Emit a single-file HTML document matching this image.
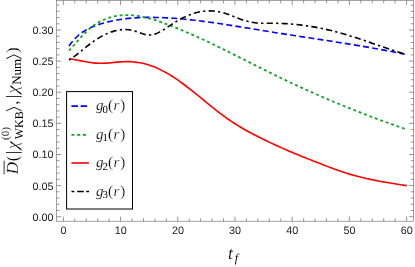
<!DOCTYPE html><html><head><meta charset="utf-8"><style>html,body{margin:0;padding:0;background:#fff;}svg{display:block;will-change:transform;}text{text-rendering:geometricPrecision;}text{font-family:"Liberation Sans",sans-serif;}.s{font-family:"Liberation Serif",serif;stroke:#fff;stroke-width:0.18px;}</style></head><body>
<svg width="415" height="267" viewBox="0 0 415 267">
<rect width="415" height="267" fill="#fff"/>
<g stroke="#666666" stroke-width="0.6" fill="none">
<rect x="56.60" y="0.50" width="357.05" height="220.70"/>
<path d="M63.35,221.20V216.60M63.35,0.50V5.10M74.79,221.20V218.30M74.79,0.50V3.40M86.23,221.20V218.30M86.23,0.50V3.40M97.68,221.20V218.30M97.68,0.50V3.40M109.12,221.20V218.30M109.12,0.50V3.40M120.56,221.20V216.60M120.56,0.50V5.10M132.00,221.20V218.30M132.00,0.50V3.40M143.44,221.20V218.30M143.44,0.50V3.40M154.89,221.20V218.30M154.89,0.50V3.40M166.33,221.20V218.30M166.33,0.50V3.40M177.77,221.20V216.60M177.77,0.50V5.10M189.21,221.20V218.30M189.21,0.50V3.40M200.65,221.20V218.30M200.65,0.50V3.40M212.10,221.20V218.30M212.10,0.50V3.40M223.54,221.20V218.30M223.54,0.50V3.40M234.98,221.20V216.60M234.98,0.50V5.10M246.42,221.20V218.30M246.42,0.50V3.40M257.86,221.20V218.30M257.86,0.50V3.40M269.31,221.20V218.30M269.31,0.50V3.40M280.75,221.20V218.30M280.75,0.50V3.40M292.19,221.20V216.60M292.19,0.50V5.10M303.63,221.20V218.30M303.63,0.50V3.40M315.07,221.20V218.30M315.07,0.50V3.40M326.52,221.20V218.30M326.52,0.50V3.40M337.96,221.20V218.30M337.96,0.50V3.40M349.40,221.20V216.60M349.40,0.50V5.10M360.84,221.20V218.30M360.84,0.50V3.40M372.28,221.20V218.30M372.28,0.50V3.40M383.73,221.20V218.30M383.73,0.50V3.40M395.17,221.20V218.30M395.17,0.50V3.40M406.61,221.20V216.60M406.61,0.50V5.10M56.60,216.70H61.20M413.65,216.70H409.05M56.60,210.48H59.50M413.65,210.48H410.75M56.60,204.25H59.50M413.65,204.25H410.75M56.60,198.03H59.50M413.65,198.03H410.75M56.60,191.81H59.50M413.65,191.81H410.75M56.60,185.58H61.20M413.65,185.58H409.05M56.60,179.36H59.50M413.65,179.36H410.75M56.60,173.14H59.50M413.65,173.14H410.75M56.60,166.92H59.50M413.65,166.92H410.75M56.60,160.69H59.50M413.65,160.69H410.75M56.60,154.47H61.20M413.65,154.47H409.05M56.60,148.25H59.50M413.65,148.25H410.75M56.60,142.02H59.50M413.65,142.02H410.75M56.60,135.80H59.50M413.65,135.80H410.75M56.60,129.58H59.50M413.65,129.58H410.75M56.60,123.36H61.20M413.65,123.36H409.05M56.60,117.13H59.50M413.65,117.13H410.75M56.60,110.91H59.50M413.65,110.91H410.75M56.60,104.69H59.50M413.65,104.69H410.75M56.60,98.46H59.50M413.65,98.46H410.75M56.60,92.24H61.20M413.65,92.24H409.05M56.60,86.02H59.50M413.65,86.02H410.75M56.60,79.79H59.50M413.65,79.79H410.75M56.60,73.57H59.50M413.65,73.57H410.75M56.60,67.35H59.50M413.65,67.35H410.75M56.60,61.12H61.20M413.65,61.12H409.05M56.60,54.90H59.50M413.65,54.90H410.75M56.60,48.68H59.50M413.65,48.68H410.75M56.60,42.46H59.50M413.65,42.46H410.75M56.60,36.23H59.50M413.65,36.23H410.75M56.60,30.01H61.20M413.65,30.01H409.05M56.60,23.79H59.50M413.65,23.79H410.75M56.60,17.56H59.50M413.65,17.56H410.75M56.60,11.34H59.50M413.65,11.34H410.75M56.60,5.12H59.50M413.65,5.12H410.75" stroke-width="0.7"/>
</g>
<g fill="#222222" font-size="10.8">
<text x="63.50" y="234.1" text-anchor="middle">0</text>
<text x="120.71" y="234.1" text-anchor="middle">10</text>
<text x="177.92" y="234.1" text-anchor="middle">20</text>
<text x="235.13" y="234.1" text-anchor="middle">30</text>
<text x="292.34" y="234.1" text-anchor="middle">40</text>
<text x="349.55" y="234.1" text-anchor="middle">50</text>
<text x="406.76" y="234.1" text-anchor="middle">60</text>
<text x="53.5" y="220.60" text-anchor="end">0.00</text>
<text x="53.5" y="189.50" text-anchor="end">0.05</text>
<text x="53.5" y="158.40" text-anchor="end">0.10</text>
<text x="53.5" y="127.30" text-anchor="end">0.15</text>
<text x="53.5" y="96.20" text-anchor="end">0.20</text>
<text x="53.5" y="65.10" text-anchor="end">0.25</text>
<text x="53.5" y="34.00" text-anchor="end">0.30</text>
</g>
<g fill="none" stroke-width="1.6">
<path d="M69.00,45.98 C69.50,45.32 71.00,43.24 72.00,42.02 C73.00,40.79 74.00,39.68 75.00,38.63 C76.00,37.59 77.00,36.64 78.00,35.75 C79.00,34.86 80.00,34.06 81.00,33.31 C82.00,32.55 83.00,31.87 84.00,31.23 C85.00,30.59 86.00,30.01 87.00,29.46 C88.00,28.91 89.00,28.40 90.00,27.92 C91.00,27.44 92.00,27.00 93.00,26.58 C94.00,26.16 95.00,25.78 96.00,25.41 C97.00,25.04 98.00,24.70 99.00,24.38 C100.00,24.05 101.00,23.75 102.00,23.46 C103.00,23.16 104.00,22.89 105.00,22.62 C106.00,22.35 107.00,22.10 108.00,21.86 C109.00,21.62 110.00,21.38 111.00,21.16 C112.00,20.95 113.00,20.74 114.00,20.54 C115.00,20.34 116.00,20.16 117.00,19.98 C118.00,19.80 119.00,19.64 120.00,19.48 C121.00,19.33 122.00,19.18 123.00,19.04 C124.00,18.91 125.00,18.78 126.00,18.66 C127.00,18.55 128.00,18.44 129.00,18.34 C130.00,18.24 131.00,18.15 132.00,18.06 C133.00,17.98 134.00,17.91 135.00,17.84 C136.00,17.77 137.00,17.71 138.00,17.66 C139.00,17.61 140.00,17.57 141.00,17.53 C142.00,17.49 143.00,17.46 144.00,17.44 C145.00,17.42 146.00,17.40 147.00,17.39 C148.00,17.38 149.00,17.37 150.00,17.37 C151.00,17.37 152.00,17.38 153.00,17.39 C154.00,17.40 155.00,17.42 156.00,17.44 C157.00,17.46 158.00,17.49 159.00,17.52 C160.00,17.55 161.00,17.59 162.00,17.63 C163.00,17.67 164.00,17.71 165.00,17.76 C166.00,17.81 167.00,17.86 168.00,17.91 C169.00,17.97 170.00,18.03 171.00,18.10 C172.00,18.16 173.00,18.23 174.00,18.30 C175.00,18.37 176.00,18.45 177.00,18.53 C178.00,18.60 179.00,18.69 180.00,18.77 C181.00,18.86 182.00,18.95 183.00,19.04 C184.00,19.13 185.00,19.23 186.00,19.33 C187.00,19.43 188.00,19.53 189.00,19.63 C190.00,19.74 191.00,19.85 192.00,19.96 C193.00,20.07 194.00,20.18 195.00,20.30 C196.00,20.42 197.00,20.54 198.00,20.66 C199.00,20.78 200.00,20.90 201.00,21.03 C202.00,21.16 203.00,21.28 204.00,21.42 C205.00,21.55 206.00,21.68 207.00,21.82 C208.00,21.95 209.00,22.09 210.00,22.23 C211.00,22.37 212.00,22.51 213.00,22.65 C214.00,22.80 215.00,22.94 216.00,23.09 C217.00,23.24 218.00,23.38 219.00,23.53 C220.00,23.68 221.00,23.83 222.00,23.99 C223.00,24.14 224.00,24.29 225.00,24.45 C226.00,24.60 227.00,24.76 228.00,24.92 C229.00,25.08 230.00,25.24 231.00,25.39 C232.00,25.55 233.00,25.72 234.00,25.88 C235.00,26.04 236.00,26.20 237.00,26.36 C238.00,26.52 239.00,26.69 240.00,26.85 C241.00,27.02 242.00,27.18 243.00,27.34 C244.00,27.51 245.00,27.67 246.00,27.84 C247.00,28.00 248.00,28.17 249.00,28.33 C250.00,28.50 251.00,28.66 252.00,28.83 C253.00,28.99 254.00,29.16 255.00,29.32 C256.00,29.49 257.00,29.65 258.00,29.82 C259.00,29.98 260.00,30.15 261.00,30.31 C262.00,30.47 263.00,30.63 264.00,30.80 C265.00,30.96 266.00,31.12 267.00,31.28 C268.00,31.44 269.00,31.60 270.00,31.76 C271.00,31.92 272.00,32.08 273.00,32.24 C274.00,32.39 275.00,32.55 276.00,32.71 C277.00,32.87 278.00,33.02 279.00,33.18 C280.00,33.34 281.00,33.49 282.00,33.65 C283.00,33.80 284.00,33.96 285.00,34.11 C286.00,34.27 287.00,34.42 288.00,34.58 C289.00,34.73 290.00,34.88 291.00,35.04 C292.00,35.19 293.00,35.35 294.00,35.50 C295.00,35.65 296.00,35.81 297.00,35.96 C298.00,36.11 299.00,36.26 300.00,36.42 C301.00,36.57 302.00,36.72 303.00,36.88 C304.00,37.03 305.00,37.18 306.00,37.33 C307.00,37.49 308.00,37.64 309.00,37.79 C310.00,37.94 311.00,38.10 312.00,38.25 C313.00,38.40 314.00,38.55 315.00,38.71 C316.00,38.86 317.00,39.01 318.00,39.17 C319.00,39.32 320.00,39.48 321.00,39.63 C322.00,39.78 323.00,39.94 324.00,40.09 C325.00,40.25 326.00,40.40 327.00,40.56 C328.00,40.71 329.00,40.87 330.00,41.02 C331.00,41.18 332.00,41.34 333.00,41.49 C334.00,41.65 335.00,41.81 336.00,41.96 C337.00,42.12 338.00,42.28 339.00,42.44 C340.00,42.60 341.00,42.76 342.00,42.92 C343.00,43.08 344.00,43.24 345.00,43.40 C346.00,43.56 347.00,43.72 348.00,43.88 C349.00,44.05 350.00,44.21 351.00,44.37 C352.00,44.54 353.00,44.70 354.00,44.87 C355.00,45.03 356.00,45.20 357.00,45.37 C358.00,45.53 359.00,45.70 360.00,45.87 C361.00,46.04 362.00,46.21 363.00,46.38 C364.00,46.55 365.00,46.72 366.00,46.89 C367.00,47.07 368.00,47.24 369.00,47.42 C370.00,47.59 371.00,47.77 372.00,47.94 C373.00,48.12 374.00,48.30 375.00,48.48 C376.00,48.66 377.00,48.84 378.00,49.02 C379.00,49.20 380.00,49.38 381.00,49.57 C382.00,49.75 383.00,49.93 384.00,50.12 C385.00,50.31 386.00,50.49 387.00,50.68 C388.00,50.87 389.00,51.06 390.00,51.25 C391.00,51.45 392.00,51.64 393.00,51.83 C394.00,52.03 395.00,52.22 396.00,52.42 C397.00,52.62 398.00,52.82 399.00,53.02 C400.00,53.22 401.03,53.43 402.00,53.62 C402.97,53.82 404.33,54.10 404.80,54.20" stroke="#0000ff" stroke-dasharray="5.95 3.28"/>
<path d="M69.00,50.70 C69.50,50.16 71.00,48.57 72.00,47.46 C73.00,46.35 74.00,45.19 75.00,44.05 C76.00,42.91 77.00,41.74 78.00,40.60 C79.00,39.46 80.00,38.31 81.00,37.21 C82.00,36.11 83.00,35.02 84.00,33.99 C85.00,32.95 86.00,31.95 87.00,31.01 C88.00,30.07 89.00,29.18 90.00,28.34 C91.00,27.51 92.00,26.73 93.00,26.00 C94.00,25.26 95.00,24.58 96.00,23.94 C97.00,23.30 98.00,22.70 99.00,22.15 C100.00,21.59 101.00,21.08 102.00,20.60 C103.00,20.12 104.00,19.68 105.00,19.27 C106.00,18.86 107.00,18.49 108.00,18.15 C109.00,17.80 110.00,17.49 111.00,17.21 C112.00,16.93 113.00,16.68 114.00,16.45 C115.00,16.23 116.00,16.04 117.00,15.87 C118.00,15.71 119.00,15.57 120.00,15.46 C121.00,15.34 122.00,15.26 123.00,15.20 C124.00,15.14 125.00,15.10 126.00,15.09 C127.00,15.08 128.00,15.09 129.00,15.12 C130.00,15.15 131.00,15.21 132.00,15.28 C133.00,15.36 134.00,15.46 135.00,15.57 C136.00,15.69 137.00,15.83 138.00,15.98 C139.00,16.13 140.00,16.30 141.00,16.49 C142.00,16.68 143.00,16.89 144.00,17.11 C145.00,17.33 146.00,17.56 147.00,17.81 C148.00,18.06 149.00,18.33 150.00,18.60 C151.00,18.88 152.00,19.17 153.00,19.47 C154.00,19.77 155.00,20.08 156.00,20.41 C157.00,20.73 158.00,21.06 159.00,21.40 C160.00,21.74 161.00,22.09 162.00,22.45 C163.00,22.80 164.00,23.17 165.00,23.53 C166.00,23.90 167.00,24.28 168.00,24.66 C169.00,25.04 170.00,25.42 171.00,25.81 C172.00,26.20 173.00,26.59 174.00,26.99 C175.00,27.39 176.00,27.79 177.00,28.20 C178.00,28.60 179.00,29.01 180.00,29.42 C181.00,29.84 182.00,30.26 183.00,30.68 C184.00,31.10 185.00,31.52 186.00,31.95 C187.00,32.38 188.00,32.81 189.00,33.25 C190.00,33.69 191.00,34.12 192.00,34.57 C193.00,35.01 194.00,35.45 195.00,35.90 C196.00,36.35 197.00,36.80 198.00,37.26 C199.00,37.71 200.00,38.17 201.00,38.63 C202.00,39.09 203.00,39.55 204.00,40.02 C205.00,40.48 206.00,40.95 207.00,41.42 C208.00,41.89 209.00,42.37 210.00,42.84 C211.00,43.32 212.00,43.79 213.00,44.27 C214.00,44.75 215.00,45.23 216.00,45.72 C217.00,46.20 218.00,46.68 219.00,47.17 C220.00,47.66 221.00,48.14 222.00,48.63 C223.00,49.12 224.00,49.62 225.00,50.11 C226.00,50.60 227.00,51.10 228.00,51.59 C229.00,52.09 230.00,52.58 231.00,53.08 C232.00,53.58 233.00,54.08 234.00,54.58 C235.00,55.07 236.00,55.57 237.00,56.08 C238.00,56.58 239.00,57.08 240.00,57.58 C241.00,58.08 242.00,58.58 243.00,59.09 C244.00,59.59 245.00,60.09 246.00,60.60 C247.00,61.10 248.00,61.60 249.00,62.11 C250.00,62.61 251.00,63.11 252.00,63.62 C253.00,64.12 254.00,64.62 255.00,65.13 C256.00,65.63 257.00,66.13 258.00,66.63 C259.00,67.13 260.00,67.64 261.00,68.14 C262.00,68.64 263.00,69.14 264.00,69.64 C265.00,70.14 266.00,70.63 267.00,71.13 C268.00,71.63 269.00,72.12 270.00,72.62 C271.00,73.11 272.00,73.61 273.00,74.10 C274.00,74.59 275.00,75.08 276.00,75.57 C277.00,76.06 278.00,76.55 279.00,77.04 C280.00,77.52 281.00,78.01 282.00,78.49 C283.00,78.97 284.00,79.45 285.00,79.93 C286.00,80.41 287.00,80.89 288.00,81.36 C289.00,81.84 290.00,82.31 291.00,82.78 C292.00,83.25 293.00,83.72 294.00,84.19 C295.00,84.65 296.00,85.12 297.00,85.58 C298.00,86.05 299.00,86.51 300.00,86.97 C301.00,87.43 302.00,87.89 303.00,88.34 C304.00,88.80 305.00,89.25 306.00,89.70 C307.00,90.16 308.00,90.61 309.00,91.05 C310.00,91.50 311.00,91.95 312.00,92.39 C313.00,92.84 314.00,93.28 315.00,93.72 C316.00,94.16 317.00,94.60 318.00,95.04 C319.00,95.48 320.00,95.91 321.00,96.35 C322.00,96.78 323.00,97.21 324.00,97.65 C325.00,98.08 326.00,98.50 327.00,98.93 C328.00,99.36 329.00,99.78 330.00,100.21 C331.00,100.63 332.00,101.05 333.00,101.47 C334.00,101.89 335.00,102.31 336.00,102.72 C337.00,103.14 338.00,103.56 339.00,103.97 C340.00,104.38 341.00,104.79 342.00,105.20 C343.00,105.61 344.00,106.02 345.00,106.42 C346.00,106.83 347.00,107.23 348.00,107.64 C349.00,108.04 350.00,108.44 351.00,108.84 C352.00,109.24 353.00,109.63 354.00,110.03 C355.00,110.43 356.00,110.82 357.00,111.21 C358.00,111.60 359.00,111.99 360.00,112.38 C361.00,112.77 362.00,113.16 363.00,113.55 C364.00,113.93 365.00,114.32 366.00,114.70 C367.00,115.08 368.00,115.46 369.00,115.84 C370.00,116.22 371.00,116.60 372.00,116.97 C373.00,117.35 374.00,117.72 375.00,118.10 C376.00,118.47 377.00,118.84 378.00,119.21 C379.00,119.58 380.00,119.95 381.00,120.31 C382.00,120.68 383.00,121.04 384.00,121.41 C385.00,121.77 386.00,122.13 387.00,122.49 C388.00,122.85 389.00,123.21 390.00,123.57 C391.00,123.92 392.00,124.28 393.00,124.63 C394.00,124.99 395.00,125.34 396.00,125.69 C397.00,126.04 398.00,126.39 399.00,126.74 C400.00,127.08 401.03,127.44 402.00,127.77 C402.97,128.11 404.33,128.58 404.80,128.74" stroke="#0ca424" stroke-width="1.8" stroke-dasharray="2.85 2.918"/>
<path d="M69.30,58.74 C69.80,58.82 71.30,59.05 72.30,59.22 C73.30,59.39 74.30,59.57 75.30,59.76 C76.30,59.94 77.30,60.13 78.30,60.32 C79.30,60.51 80.30,60.71 81.30,60.90 C82.30,61.09 83.30,61.28 84.30,61.46 C85.30,61.64 86.30,61.82 87.30,61.98 C88.30,62.15 89.30,62.31 90.30,62.45 C91.30,62.59 92.30,62.73 93.30,62.84 C94.30,62.95 95.30,63.05 96.30,63.12 C97.30,63.19 98.30,63.25 99.30,63.28 C100.30,63.31 101.30,63.31 102.30,63.29 C103.30,63.27 104.30,63.23 105.30,63.17 C106.30,63.12 107.30,63.04 108.30,62.96 C109.30,62.88 110.30,62.79 111.30,62.70 C112.30,62.60 113.30,62.50 114.30,62.41 C115.30,62.31 116.30,62.21 117.30,62.13 C118.30,62.04 119.30,61.96 120.30,61.89 C121.30,61.82 122.30,61.75 123.30,61.71 C124.30,61.67 125.30,61.63 126.30,61.62 C127.30,61.61 128.30,61.62 129.30,61.65 C130.30,61.68 131.30,61.73 132.30,61.80 C133.30,61.88 134.30,61.97 135.30,62.09 C136.30,62.21 137.30,62.35 138.30,62.51 C139.30,62.67 140.30,62.85 141.30,63.06 C142.30,63.27 143.30,63.49 144.30,63.74 C145.30,63.99 146.30,64.27 147.30,64.56 C148.30,64.85 149.30,65.17 150.30,65.51 C151.30,65.84 152.30,66.20 153.30,66.59 C154.30,66.97 155.30,67.37 156.30,67.80 C157.30,68.22 158.30,68.67 159.30,69.14 C160.30,69.61 161.30,70.10 162.30,70.61 C163.30,71.12 164.30,71.66 165.30,72.21 C166.30,72.76 167.30,73.33 168.30,73.92 C169.30,74.51 170.30,75.12 171.30,75.74 C172.30,76.37 173.30,77.01 174.30,77.67 C175.30,78.33 176.30,79.01 177.30,79.70 C178.30,80.39 179.30,81.09 180.30,81.81 C181.30,82.53 182.30,83.26 183.30,84.00 C184.30,84.74 185.30,85.50 186.30,86.26 C187.30,87.02 188.30,87.79 189.30,88.57 C190.30,89.35 191.30,90.14 192.30,90.93 C193.30,91.73 194.30,92.53 195.30,93.33 C196.30,94.13 197.30,94.94 198.30,95.75 C199.30,96.56 200.30,97.38 201.30,98.19 C202.30,99.01 203.30,99.82 204.30,100.64 C205.30,101.45 206.30,102.27 207.30,103.08 C208.30,103.89 209.30,104.70 210.30,105.51 C211.30,106.32 212.30,107.12 213.30,107.92 C214.30,108.71 215.30,109.50 216.30,110.29 C217.30,111.07 218.30,111.85 219.30,112.62 C220.30,113.39 221.30,114.15 222.30,114.89 C223.30,115.64 224.30,116.38 225.30,117.11 C226.30,117.83 227.30,118.55 228.30,119.25 C229.30,119.95 230.30,120.64 231.30,121.31 C232.30,121.98 233.30,122.63 234.30,123.28 C235.30,123.92 236.30,124.55 237.30,125.17 C238.30,125.79 239.30,126.39 240.30,126.99 C241.30,127.58 242.30,128.16 243.30,128.74 C244.30,129.31 245.30,129.87 246.30,130.43 C247.30,130.99 248.30,131.53 249.30,132.07 C250.30,132.61 251.30,133.14 252.30,133.67 C253.30,134.19 254.30,134.71 255.30,135.22 C256.30,135.74 257.30,136.24 258.30,136.75 C259.30,137.25 260.30,137.75 261.30,138.25 C262.30,138.75 263.30,139.24 264.30,139.73 C265.30,140.22 266.30,140.70 267.30,141.18 C268.30,141.66 269.30,142.14 270.30,142.61 C271.30,143.09 272.30,143.56 273.30,144.02 C274.30,144.49 275.30,144.95 276.30,145.41 C277.30,145.87 278.30,146.32 279.30,146.78 C280.30,147.23 281.30,147.68 282.30,148.12 C283.30,148.57 284.30,149.01 285.30,149.45 C286.30,149.88 287.30,150.32 288.30,150.75 C289.30,151.18 290.30,151.61 291.30,152.04 C292.30,152.46 293.30,152.88 294.30,153.30 C295.30,153.72 296.30,154.14 297.30,154.55 C298.30,154.97 299.30,155.38 300.30,155.79 C301.30,156.19 302.30,156.60 303.30,157.00 C304.30,157.40 305.30,157.80 306.30,158.20 C307.30,158.59 308.30,158.99 309.30,159.38 C310.30,159.77 311.30,160.16 312.30,160.55 C313.30,160.94 314.30,161.32 315.30,161.71 C316.30,162.10 317.30,162.48 318.30,162.87 C319.30,163.25 320.30,163.64 321.30,164.03 C322.30,164.42 323.30,164.81 324.30,165.19 C325.30,165.58 326.30,165.98 327.30,166.37 C328.30,166.75 329.30,167.14 330.30,167.53 C331.30,167.91 332.30,168.29 333.30,168.67 C334.30,169.04 335.30,169.41 336.30,169.77 C337.30,170.13 338.30,170.48 339.30,170.83 C340.30,171.18 341.30,171.51 342.30,171.84 C343.30,172.18 344.30,172.50 345.30,172.81 C346.30,173.13 347.30,173.44 348.30,173.74 C349.30,174.04 350.30,174.34 351.30,174.63 C352.30,174.91 353.30,175.19 354.30,175.47 C355.30,175.74 356.30,176.01 357.30,176.27 C358.30,176.54 359.30,176.79 360.30,177.04 C361.30,177.29 362.30,177.53 363.30,177.77 C364.30,178.01 365.30,178.24 366.30,178.47 C367.30,178.69 368.30,178.91 369.30,179.13 C370.30,179.34 371.30,179.55 372.30,179.76 C373.30,179.97 374.30,180.17 375.30,180.37 C376.30,180.56 377.30,180.76 378.30,180.95 C379.30,181.14 380.30,181.32 381.30,181.50 C382.30,181.69 383.30,181.86 384.30,182.04 C385.30,182.21 386.30,182.39 387.30,182.56 C388.30,182.73 389.30,182.89 390.30,183.06 C391.30,183.22 392.30,183.39 393.30,183.55 C394.30,183.71 395.30,183.87 396.30,184.03 C397.30,184.18 398.30,184.34 399.30,184.50 C400.30,184.65 401.30,184.80 402.30,184.96 C403.30,185.11 404.52,185.30 405.30,185.42 C406.08,185.54 406.72,185.63 407.00,185.68" stroke="#ff0000"/>
<path d="M69.00,60.13 C69.50,59.80 71.00,58.83 72.00,58.14 C73.00,57.44 74.00,56.70 75.00,55.95 C76.00,55.19 77.00,54.41 78.00,53.62 C79.00,52.83 80.00,52.02 81.00,51.21 C82.00,50.40 83.00,49.58 84.00,48.77 C85.00,47.96 86.00,47.14 87.00,46.35 C88.00,45.55 89.00,44.76 90.00,44.00 C91.00,43.24 92.00,42.50 93.00,41.79 C94.00,41.07 95.00,40.39 96.00,39.73 C97.00,39.07 98.00,38.44 99.00,37.83 C100.00,37.23 101.00,36.66 102.00,36.12 C103.00,35.57 104.00,35.06 105.00,34.58 C106.00,34.09 107.00,33.64 108.00,33.23 C109.00,32.81 110.00,32.42 111.00,32.07 C112.00,31.72 113.00,31.40 114.00,31.12 C115.00,30.83 116.00,30.58 117.00,30.37 C118.00,30.16 119.00,29.98 120.00,29.85 C121.00,29.71 122.00,29.61 123.00,29.55 C124.00,29.50 125.00,29.48 126.00,29.52 C127.00,29.55 128.00,29.63 129.00,29.75 C130.00,29.88 131.00,30.06 132.00,30.28 C133.00,30.51 134.00,30.81 135.00,31.12 C136.00,31.43 137.00,31.81 138.00,32.17 C139.00,32.52 140.00,32.91 141.00,33.24 C142.00,33.58 143.00,33.92 144.00,34.18 C145.00,34.45 146.00,34.68 147.00,34.82 C148.00,34.96 149.00,35.03 150.00,35.00 C151.00,34.96 152.00,34.82 153.00,34.60 C154.00,34.38 155.00,34.06 156.00,33.69 C157.00,33.31 158.00,32.85 159.00,32.35 C160.00,31.85 161.00,31.29 162.00,30.70 C163.00,30.11 164.00,29.48 165.00,28.83 C166.00,28.19 167.00,27.51 168.00,26.85 C169.00,26.18 170.00,25.50 171.00,24.84 C172.00,24.19 173.00,23.54 174.00,22.92 C175.00,22.29 176.00,21.69 177.00,21.10 C178.00,20.52 179.00,19.95 180.00,19.41 C181.00,18.86 182.00,18.34 183.00,17.84 C184.00,17.34 185.00,16.86 186.00,16.41 C187.00,15.96 188.00,15.53 189.00,15.13 C190.00,14.73 191.00,14.35 192.00,14.00 C193.00,13.65 194.00,13.33 195.00,13.04 C196.00,12.75 197.00,12.48 198.00,12.25 C199.00,12.01 200.00,11.81 201.00,11.63 C202.00,11.46 203.00,11.31 204.00,11.20 C205.00,11.08 206.00,11.00 207.00,10.94 C208.00,10.89 209.00,10.87 210.00,10.87 C211.00,10.88 212.00,10.92 213.00,10.99 C214.00,11.06 215.00,11.16 216.00,11.29 C217.00,11.42 218.00,11.59 219.00,11.78 C220.00,11.98 221.00,12.20 222.00,12.46 C223.00,12.72 224.00,13.01 225.00,13.33 C226.00,13.64 227.00,13.99 228.00,14.35 C229.00,14.71 230.00,15.09 231.00,15.48 C232.00,15.87 233.00,16.27 234.00,16.66 C235.00,17.06 236.00,17.47 237.00,17.86 C238.00,18.25 239.00,18.64 240.00,19.01 C241.00,19.37 242.00,19.74 243.00,20.06 C244.00,20.39 245.00,20.70 246.00,20.98 C247.00,21.26 248.00,21.51 249.00,21.72 C250.00,21.94 251.00,22.13 252.00,22.30 C253.00,22.47 254.00,22.60 255.00,22.72 C256.00,22.84 257.00,22.92 258.00,23.00 C259.00,23.08 260.00,23.13 261.00,23.17 C262.00,23.22 263.00,23.24 264.00,23.26 C265.00,23.28 266.00,23.29 267.00,23.29 C268.00,23.30 269.00,23.30 270.00,23.30 C271.00,23.30 272.00,23.29 273.00,23.29 C274.00,23.30 275.00,23.30 276.00,23.32 C277.00,23.33 278.00,23.35 279.00,23.38 C280.00,23.40 281.00,23.44 282.00,23.48 C283.00,23.52 284.00,23.57 285.00,23.62 C286.00,23.67 287.00,23.73 288.00,23.80 C289.00,23.87 290.00,23.94 291.00,24.02 C292.00,24.10 293.00,24.19 294.00,24.28 C295.00,24.37 296.00,24.47 297.00,24.58 C298.00,24.68 299.00,24.80 300.00,24.91 C301.00,25.03 302.00,25.16 303.00,25.29 C304.00,25.42 305.00,25.56 306.00,25.70 C307.00,25.85 308.00,25.99 309.00,26.15 C310.00,26.31 311.00,26.47 312.00,26.64 C313.00,26.81 314.00,26.98 315.00,27.16 C316.00,27.34 317.00,27.53 318.00,27.72 C319.00,27.91 320.00,28.11 321.00,28.32 C322.00,28.52 323.00,28.73 324.00,28.95 C325.00,29.17 326.00,29.39 327.00,29.62 C328.00,29.84 329.00,30.08 330.00,30.32 C331.00,30.56 332.00,30.80 333.00,31.06 C334.00,31.31 335.00,31.56 336.00,31.83 C337.00,32.09 338.00,32.36 339.00,32.63 C340.00,32.91 341.00,33.19 342.00,33.47 C343.00,33.76 344.00,34.05 345.00,34.34 C346.00,34.64 347.00,34.94 348.00,35.24 C349.00,35.54 350.00,35.85 351.00,36.17 C352.00,36.48 353.00,36.79 354.00,37.11 C355.00,37.43 356.00,37.76 357.00,38.08 C358.00,38.41 359.00,38.74 360.00,39.07 C361.00,39.40 362.00,39.73 363.00,40.07 C364.00,40.41 365.00,40.74 366.00,41.08 C367.00,41.42 368.00,41.76 369.00,42.11 C370.00,42.45 371.00,42.79 372.00,43.14 C373.00,43.48 374.00,43.83 375.00,44.17 C376.00,44.52 377.00,44.86 378.00,45.21 C379.00,45.55 380.00,45.90 381.00,46.24 C382.00,46.59 383.00,46.93 384.00,47.27 C385.00,47.61 386.00,47.96 387.00,48.30 C388.00,48.63 389.00,48.97 390.00,49.31 C391.00,49.65 392.00,49.98 393.00,50.31 C394.00,50.64 395.00,50.97 396.00,51.30 C397.00,51.62 398.00,51.95 399.00,52.27 C400.00,52.59 401.05,52.92 402.00,53.22 C402.95,53.51 404.25,53.91 404.70,54.05" stroke="#000" stroke-dasharray="2.3 3.23 6.2 3.225"/>
</g>
<rect x="66.6" y="91.6" width="65.9" height="117.4" fill="#fff" stroke="#000" stroke-width="1"/>
<g fill="none" stroke-width="1.5">
<path d="M71.4,106.1H78M80.6,106.1H87.1" stroke="#0000ff" stroke-width="1.6"/>
<path d="M71.5,134.8H74.3M77.2,134.8H80.2M82.9,134.8H86.1" stroke="#0ca424" stroke-width="1.8"/>
<path d="M71.4,163.0H88.9" stroke="#ff0000" stroke-width="1.6"/>
<path d="M71.5,191.5H74.3M77.2,191.5H83.9M86.2,191.5H89" stroke="#000" stroke-width="1.6"/>
</g>
<text class="s" x="96" y="110.0" font-size="15" fill="#000"><tspan font-style="italic">g</tspan><tspan font-size="10.8" dy="2.5" dx="-0.9" style="stroke:none">0</tspan><tspan dy="-2.5">(</tspan><tspan font-style="italic" dx="0.5">r</tspan><tspan dx="1">)</tspan></text>
<text class="s" x="96" y="138.5" font-size="15" fill="#000"><tspan font-style="italic">g</tspan><tspan font-size="10.8" dy="2.5" dx="-0.9" style="stroke:none">1</tspan><tspan dy="-2.5">(</tspan><tspan font-style="italic" dx="0.5">r</tspan><tspan dx="1">)</tspan></text>
<text class="s" x="96" y="167.0" font-size="15" fill="#000"><tspan font-style="italic">g</tspan><tspan font-size="10.8" dy="2.5" dx="-0.9" style="stroke:none">2</tspan><tspan dy="-2.5">(</tspan><tspan font-style="italic" dx="0.5">r</tspan><tspan dx="1">)</tspan></text>
<text class="s" x="96" y="195.5" font-size="15" fill="#000"><tspan font-style="italic">g</tspan><tspan font-size="10.8" dy="2.5" dx="-0.9" style="stroke:none">3</tspan><tspan dy="-2.5">(</tspan><tspan font-style="italic" dx="0.5">r</tspan><tspan dx="1">)</tspan></text>
<text class="s" x="228" y="259" font-size="18" font-style="italic" fill="#000">t<tspan font-size="12" dy="2.6" dx="1.8" style="stroke:none">f</tspan></text>
<g transform="translate(18.2,174.3) rotate(-90)" fill="#000" class="s">
<text class="s" x="0" y="0" font-size="17" font-style="italic">D</text>
<path d="M0,-14.1H13.6" stroke="#000" stroke-width="0.8"/>
<text class="s" x="13.1" y="0" font-size="17">(</text>
<path d="M21.8,-12.2V3.5" stroke="#000" stroke-width="0.8"/>
<text class="s" transform="translate(25.0,0) scale(1.08,1)" font-size="17" font-style="italic">χ</text>
<text class="s" x="34.4" y="-8.8" font-size="11" style="stroke-width:0.1px">(0)</text>
<text class="s" x="35" y="4.7" font-size="12" style="stroke:none">WKB</text>
<path d="M63.5,-12L67,-4.2L63.5,3.5" stroke="#000" stroke-width="0.9" fill="none"/>
<text class="s" x="69.5" y="0" font-size="17">,</text>
<path d="M77.8,-12.2V3.5" stroke="#000" stroke-width="0.8"/>
<text class="s" transform="translate(80.9,0) scale(1.08,1)" font-size="17" font-style="italic">χ</text>
<text class="s" x="89.5" y="2.4" font-size="13" style="stroke:none">Num</text>
<path d="M115.7,-12L119.4,-4.2L115.7,3.5" stroke="#000" stroke-width="0.9" fill="none"/>
<text class="s" x="121.2" y="0" font-size="17">)</text>
</g>
</svg></body></html>
